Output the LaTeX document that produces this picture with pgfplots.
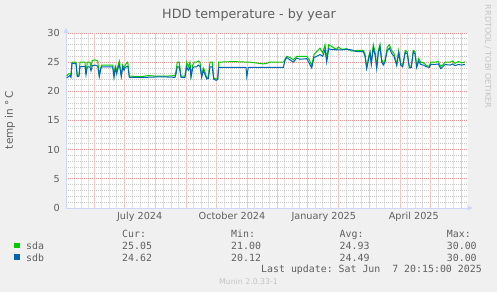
\documentclass[border=0pt]{standalone}
\usepackage{fontspec}
\setmainfont{DejaVu Sans}
\newfontfamily\mono{DejaVu Sans Mono}
\usepackage{pgfplots}
\pgfplotsset{compat=1.18}
\usetikzlibrary{arrows.meta}
\definecolor{bg}{HTML}{F0F0F0}
\definecolor{fg}{HTML}{606060}
\definecolor{axiscol}{HTML}{CFD6F8}
\definecolor{mgrid}{HTML}{F09090}
\definecolor{sgrid}{HTML}{C8C8C8}
\definecolor{mgridv}{HTML}{F8C4C4}
\definecolor{sgridv}{HTML}{E2E2E2}
\definecolor{sda}{HTML}{00CC00}
\definecolor{sdb}{HTML}{0066B3}
\definecolor{faint}{HTML}{C4C4C4}
\begin{document}
\begin{tikzpicture}[x=1pt,y=1pt]
\useasboundingbox (0,0) rectangle (497,292);
\fill[bg] (0,0) rectangle (497,292);
\begin{axis}[
  at={(66pt,84pt)}, anchor=south west,
  scale only axis, width=401.5pt, height=175pt,
  xmin=0, xmax=401.5, ymin=0, ymax=30,
  axis lines=left,
  axis line style={draw=axiscol, line width=0.8pt, -{Triangle[length=5pt,width=5pt]}},
  x axis line style={shorten >=-5pt},
  y axis line style={shorten >=-5pt},
  axis background/.style={fill=white},
  xtick={73.7,166,257.8,347.8},
  xticklabels={July 2024,October 2024,January 2025,April 2025},
  minor xtick={8.5,15.5,22.2,35.8,43.3,50.8,66.2,74,81.9,97.3,104.9,112.4,127.6,135.2,142.7,158.1,165.8,173.6,188.8,196.3,203.8,218.8,226.3,233.8,249.1,256.8,264.6,280,287.7,295.3,310.8,318.5,326.3,341.6,349.2,356.7,372,379.7,387.3},
  extra x ticks={28.3,58.3,89.7,120,150.3,181.3,211.3,241.3,272.3,303,334,364.3,395},
  extra x tick labels={},
  extra x tick style={grid=major},
  xminorgrids=true,
  ymajorgrids=true, yminorgrids=true,
  ytick={0,5,...,30},
  minor ytick={1,...,29},
  major grid style={draw=mgrid, line width=0.8pt, dash pattern=on 1pt off 1pt},
  minor grid style={draw=sgrid, line width=0.8pt, dash pattern=on 1pt off 1pt},
  major x grid style={draw=mgridv, line width=0.8pt, solid},
  minor x grid style={draw=sgridv, line width=0.8pt, solid},
  major tick length=0pt, minor tick length=0pt,
  ticklabel style={font=\fontsize{9.7}{11}\selectfont, text=fg},
  /pgf/number format/assume math mode=true,
  yticklabel style={anchor=east, inner sep=0pt, xshift=-6pt},
  xticklabel style={anchor=base, inner sep=0pt, yshift=-11.5pt},
]
\addplot[sda, line width=1pt] coordinates {(0.7,22.6)(2.3,23.0)(4,23.0)(5,22.8)(6,25.0)(10,25.0)(11.3,22.7)(13,22.8)(14,25.0)(19,25.0)(20,23.0)(21.3,25.0)(24,25.0)(25,24.2)(26.3,25.3)(29,25.4)(31.7,25.2)(33.3,22.8)(34.7,24.0)(35.7,24.5)(46.7,24.5)(48,22.6)(49.3,24.3)(50.7,23.5)(52.3,24.6)(53.3,25.2)(54.3,24.0)(55.3,22.7)(56.7,24.5)(58,24.0)(59.3,24.5)(61.3,25.0)(62,24.7)(63.3,22.6)(65.7,22.6)(75,22.5)(82,22.7)(90,22.6)(100,22.6)(109,22.7)(110,23.5)(111.3,25.0)(113.3,25.0)(115,22.6)(119,22.6)(120.7,25.0)(122.3,24.2)(124,25.0)(125,22.6)(126.7,24.5)(128.3,25.0)(130.7,25.0)(132.3,25.2)(134,25.0)(135.7,22.6)(137.3,24.0)(138.7,23.5)(140.7,22.3)(142.3,22.5)(144,25.0)(146.3,25.0)(147.7,22.3)(150,22.1)(151.7,22.2)(152.7,25.0)(167.3,25.1)(182.3,25.0)(184,25.0)(197.3,24.7)(200.7,24.8)(204,25.0)(217.3,25.0)(219,25.5)(220.7,26.0)(224,25.8)(227.3,25.4)(230.7,26.0)(234,26.0)(240.7,26.0)(243.3,25.4)(245.7,24.4)(248,26.3)(250.7,26.8)(254,27.4)(256.7,26.6)(259,28.0)(260.7,25.6)(262.7,28.0)(264.7,27.8)(267.3,27.5)(270.7,27.2)(272.3,27.6)(275.7,27.2)(280.7,27.3)(285.7,26.9)(290.7,27.0)(297.3,27.0)(299,26.4)(300.7,24.0)(302.7,26.0)(304,26.8)(305.3,25.0)(307.3,28.0)(309.3,26.5)(310.7,24.0)(312.3,27.0)(314,28.1)(315.7,25.5)(317.3,24.8)(319,25.3)(321.3,27.6)(323.3,28.0)(325.7,27.0)(328,26.5)(330.7,24.6)(332.7,27.0)(334.7,24.8)(336.7,24.5)(339.3,27.0)(341.3,26.8)(343.3,24.3)(345.3,24.3)(347.3,27.0)(349,26.8)(350.7,24.3)(352.7,25.6)(354.7,25.0)(357.3,24.9)(360.7,24.4)(363.3,24.3)(364.7,25.0)(369,25.0)(372.3,25.1)(374.7,24.3)(376.7,24.5)(379,25.0)(384,25.0)(386.7,25.2)(389,24.8)(392.3,25.1)(395.7,24.9)(399,25.05)};
\addplot[sdb, line width=1pt] coordinates {(0.7,22.3)(2.3,22.5)(4,22.7)(5,22.4)(6,24.8)(10,24.8)(11.3,22.5)(13,22.6)(14,24.2)(19,24.3)(20,22.8)(21.3,24.2)(24,24.2)(25,23.5)(26.3,24.4)(29,24.5)(31.7,24.3)(33.3,22.5)(34.7,23.8)(35.7,24.2)(46.7,24.2)(48,22.4)(49.3,24.0)(50.7,23.0)(52.3,24.2)(53.3,24.5)(54.3,23.6)(55.3,22.5)(56.7,24.2)(58,23.6)(59.3,24.1)(61.3,24.3)(62,24.2)(63.3,22.4)(65.7,22.4)(80,22.4)(95,22.5)(109,22.4)(110,23.0)(111.3,24.2)(113.3,24.2)(115,22.4)(119,22.4)(120.7,24.2)(122.3,23.6)(124,24.2)(125,22.4)(126.7,24.0)(128.3,24.2)(130.7,24.2)(132.3,24.5)(134,24.3)(135.7,22.4)(137.3,23.6)(138.7,23.0)(140.7,22.1)(142.3,22.2)(144,24.2)(146.3,24.2)(147.7,22.1)(150,21.9)(151.7,22.0)(152.7,24.1)(167.3,24.1)(180,24.1)(180.8,22.5)(182.3,24.1)(184,24.1)(217.3,24.1)(219,25.3)(220.7,25.8)(224,25.4)(227.3,25.0)(230.7,25.7)(234,25.5)(240.7,25.6)(243.3,24.8)(245.7,24.0)(248,25.8)(250.7,26.0)(254,26.3)(256.7,26.0)(259,27.2)(260.7,25.0)(262.7,27.3)(264.7,27.2)(267.3,27.2)(270.7,27.1)(272.3,27.1)(275.7,27.1)(280.7,27.2)(285.7,27.1)(290.7,26.8)(297.3,26.8)(299,26.0)(300.7,23.9)(302.7,25.6)(304,26.6)(305.3,24.6)(307.3,27.5)(309.3,26.0)(310.7,23.9)(312.3,26.6)(314,27.6)(315.7,25.0)(317.3,24.5)(319,25.0)(321.3,27.0)(323.3,27.4)(325.7,26.5)(328,26.0)(330.7,24.4)(332.7,26.6)(334.7,24.5)(336.7,24.2)(339.3,26.7)(341.3,26.4)(343.3,24.0)(345.3,24.1)(347.3,26.8)(349,26.4)(350.7,24.1)(352.7,25.2)(354.7,24.6)(357.3,24.5)(360.7,24.2)(363.3,24.1)(364.7,24.6)(369,24.6)(372.3,24.7)(374.7,23.9)(376.7,24.2)(379,24.6)(384,24.5)(386.7,24.7)(389,24.4)(392.3,24.6)(395.7,24.5)(399,24.62)};
\end{axis}
\node[anchor=base, text=fg, font=\fontsize{12.7}{14}\selectfont] at (249,273.7) {HDD temperature - by year};
\node[rotate=90, text=fg, font=\fontsize{10.5}{12}\selectfont] at (10,172) {temp in °\,C};
\node[rotate=-90, text=faint, font=\fontsize{8}{9}\selectfont] at (488,235.5) {RRDTOOL / TOBI OETIKER};
\begin{scope}[every node/.style={anchor=base west, inner sep=0pt, text=fg, font=\mono\fontsize{9.9}{11}\selectfont}]
\node at (122,55) {Cur:};
\node at (231,55) {Min:};
\node at (339.5,55) {Avg:};
\node at (446.7,55) {Max:};
\fill[sda] (14,43.7) rectangle (20,49.3);
\fill[sdb] (14,32) rectangle (20,37.7);
\node at (26,42.7) {sda};
\node at (122,42.7) {25.05};
\node at (231,42.7) {21.00};
\node at (339.5,42.7) {24.93};
\node at (446.7,42.7) {30.00};
\node at (26,31) {sdb};
\node at (122,31) {24.62};
\node at (231,31) {20.12};
\node at (339.5,31) {24.49};
\node at (446.7,31) {30.00};
\node at (261,19.3) {Last update:\ Sat Jun\ \ 7 20:15:00 2025};
\end{scope}
\node[anchor=base, text=faint, font=\fontsize{7.8}{9}\selectfont] at (248.5,8) {Munin 2.0.33-1};
\end{tikzpicture}
\end{document}
